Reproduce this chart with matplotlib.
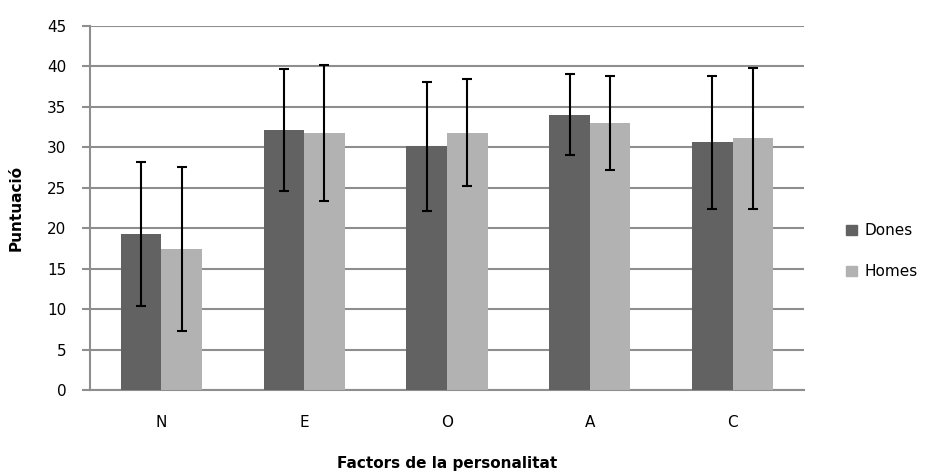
import matplotlib
matplotlib.use("Agg")
import matplotlib.pyplot as plt
import numpy as np
from matplotlib.patches import Patch

categories = ["N", "E", "O", "A", "C"]
dones = [19.3, 32.1, 30.1, 34.0, 30.6]
homes = [17.4, 31.8, 31.8, 33.0, 31.1]
dones_err = [8.9, 7.5, 7.95, 5.0, 8.2]
homes_err = [10.1, 8.4, 6.65, 5.8, 8.7]
yticks = [0, 5, 10, 15, 20, 25, 30, 35, 40, 45]

c_dark = "#626262"
c_light = "#b2b2b2"
grid_c = "#8e8e8e"

plt.rcParams['font.family'] = ['DejaVu Sans']
fig = plt.figure(figsize=(9.44, 4.74), dpi=100)
ax = fig.add_axes([0.0953, 0.1772, 0.7564, 0.7686])

x = np.arange(len(categories))
w = 0.284
ekw = dict(ecolor="black", elinewidth=1.5, capsize=3.4, capthick=1.5)
ax.bar(x - w/2, dones, w, color=c_dark, yerr=dones_err, error_kw=ekw, zorder=3)
ax.bar(x + w/2, homes, w, color=c_light, yerr=homes_err, error_kw=ekw, zorder=3)

ax.set_xlim(-0.5, 4.5)
ax.set_ylim(0, 45)
ax.set_yticks(yticks)
ax.set_xticks(x)
ax.set_xticklabels(categories)
ax.yaxis.grid(True, color=grid_c, linewidth=1.5, zorder=0)
ax.set_axisbelow(True)
for s in ["top", "right"]:
    ax.spines[s].set_visible(False)
for s in ["left", "bottom"]:
    ax.spines[s].set_color(grid_c)
    ax.spines[s].set_linewidth(1.5)
ax.tick_params(axis="y", length=6, width=1.5, color=grid_c, labelsize=11, pad=11)
ax.tick_params(axis="x", length=0, labelsize=11, pad=18)

ax.set_ylabel("Puntuació", fontsize=11, fontweight="bold", labelpad=17)
ax.set_xlabel("Factors de la personalitat", fontsize=11, fontweight="bold", labelpad=19)

handles = [Patch(color=c_dark, label="Dones"), Patch(color=c_light, label="Homes")]
fig.legend(handles=handles, loc="center left", bbox_to_anchor=(0.882, 0.47),
           frameon=False, fontsize=11, handlelength=0.7, handleheight=0.7,
           handletextpad=0.5, labelspacing=1.7)

fig.savefig("out.png", dpi=100)
